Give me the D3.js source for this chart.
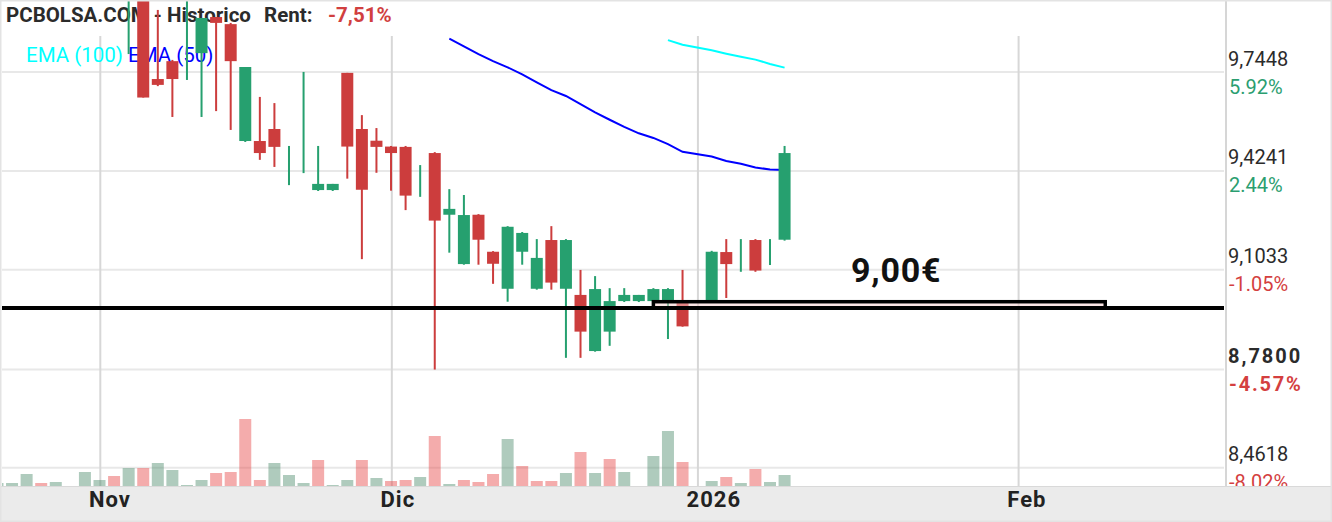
<!DOCTYPE html>
<html>
<head>
<meta charset="utf-8">
<script src="https://cdn.jsdelivr.net/npm/d3@7"></script>
<style>
  html, body { margin: 0; padding: 0; background: #fff; }
  svg { display: block; font-family: Roboto, "Noto Sans", sans-serif; }
</style>
</head>
<body>
<svg id="chart" width="1332" height="522"></svg>
<script>
// ---- Daily sessions (BME), OHLC and volume (thousands of shares) ----
const sessions = [
  "2025-10-23","2025-10-24","2025-10-27","2025-10-28","2025-10-29","2025-10-31",
  "2025-11-03","2025-11-04","2025-11-05","2025-11-06","2025-11-07","2025-11-10",
  "2025-11-11","2025-11-12","2025-11-13","2025-11-14","2025-11-17","2025-11-18",
  "2025-11-19","2025-11-20","2025-11-21","2025-11-24","2025-11-25","2025-11-26",
  "2025-11-27","2025-11-28","2025-12-01","2025-12-02","2025-12-03","2025-12-04",
  "2025-12-05","2025-12-08","2025-12-09","2025-12-10","2025-12-11","2025-12-12",
  "2025-12-15","2025-12-16","2025-12-17","2025-12-18","2025-12-19","2025-12-22",
  "2025-12-23","2025-12-24","2025-12-29","2025-12-30","2025-12-31","2026-01-02",
  "2026-01-05","2026-01-06","2026-01-07","2026-01-08","2026-01-09"
];
const open = [
  10.30, 10.35, 10.38, 10.46, 10.40, 10.42,
  10.48, 10.50, 10.10, 10.05, 9.722, 9.780,
  9.800, 9.806, 9.923, 9.900, 9.521, 9.521,
  9.560, 9.505, 9.589, 9.362, 9.362, 9.742,
  9.560, 9.522, 9.503, 9.502, 9.395, 9.482,
  9.282, 9.122, 9.282, 9.162, 9.042, 9.162,
  9.042, 9.200, 9.042, 9.022, 8.840, 8.903,
  9.002, 9.002, 9.002, 9.002, 9.002, 9.003,
  9.161, 9.168, 9.200, 9.168, 9.201
];
const high = [
  10.38, 10.42, 10.50, 10.48, 10.45, 10.52,
  10.55, 10.52, 10.30, 10.12, 9.946, 9.784,
  10.03, 9.920, 9.923, 9.904, 9.761, 9.664,
  9.644, 9.505, 9.745, 9.505, 9.382, 9.742,
  9.605, 9.563, 9.505, 9.505, 9.443, 9.485,
  9.365, 9.346, 9.284, 9.164, 9.245, 9.226,
  9.203, 9.245, 9.203, 9.103, 9.083, 9.044,
  9.044, 9.022, 9.044, 9.044, 9.103, 9.165,
  9.203, 9.203, 9.203, 9.203, 9.505
];
const low = [
  10.26, 10.31, 10.36, 10.38, 10.37, 10.40,
  10.44, 10.20, 9.803, 9.662, 9.699, 9.599,
  9.719, 9.599, 9.618, 9.557, 9.518, 9.460,
  9.437, 9.378, 9.417, 9.359, 9.359, 9.399,
  9.138, 9.418, 9.360, 9.297, 9.340, 8.780,
  9.159, 9.120, 9.120, 9.058, 9.000, 9.120,
  9.039, 9.039, 8.818, 8.818, 8.838, 8.857,
  8.999, 8.999, 9.002, 8.879, 8.919, 9.003,
  9.012, 9.097, 9.097, 9.119, 9.198
];
const close = [
  10.35, 10.38, 10.46, 10.40, 10.42, 10.48,
  10.50, 10.24, 10.26, 9.662, 9.703, 9.722,
  9.800, 9.920, 9.904, 9.780, 9.761, 9.482,
  9.502, 9.505, 9.589, 9.382, 9.382, 9.503,
  9.363, 9.502, 9.482, 9.344, 9.395, 9.263,
  9.301, 9.281, 9.201, 9.123, 9.243, 9.223,
  9.142, 9.062, 9.200, 8.903, 9.041, 9.002,
  9.022, 9.022, 9.041, 9.041, 8.920, 9.162,
  9.122, 9.168, 9.101, 9.168, 9.482
];
const volume = [
  3, 3, 12, 3, 4, 14,
  6, 10, 18, 18, 23, 16,
  1, 6, 13, 14, 67, 6,
  23, 11, 3, 26, 1, 6,
  26, 8, 5, 6, 9, 50,
  2, 6, 4, 12, 47, 20,
  5, 5, 13, 34, 13, 27,
  14, 0, 30, 55, 24, 5,
  9, 3, 17, 4, 11
];

// Moving averages
const ema50Start = "2025-12-05";
const ema50 = [
  9.853, 9.828, 9.803, 9.780, 9.760, 9.737,
  9.711, 9.686, 9.667, 9.641, 9.614, 9.590,
  9.567, 9.546, 9.531, 9.511, 9.486, 9.471,
  9.456, 9.447, 9.435, 9.429, 9.427
];
const ema100Start = "2025-12-30";
const ema100 = [9.848, 9.833, 9.815, 9.804, 9.794, 9.785, 9.771, 9.759];

// Price axis ticks and their % change labels
const priceTicks = [9.7448, 9.4241, 9.1033, 8.7800, 8.4618];
const priceTickLabels = ["9,7448", "9,4241", "9,1033", "8,7800", "8,4618"];
const pctTickLabels = ["5.92%", "2.44%", "-1.05%", "-4.57%", "-8.02%"];
const pctTickUp = [true, true, false, false, false];
const highlightTick = "8,7800";

// Time axis
const monthTicks = ["2025-11-03", "2025-12-01", "2026-01-01", "2026-02-02"];
const monthLabels = ["Nov", "Dic", "2026", "Feb"];
const marketClosed = ["2025-12-25", "2025-12-26"];

// Annotations
const supportLevel = 8.98;
const zoneTop = 9.00;
const zoneFrom = "2025-12-29";
const zoneTo = "2026-02-10";
const zoneLabel = "9,00€";
const titleText = "PCBOLSA.COM - Historico";
const rentLabel = "Rent:";
const rentValue = "-7,51%";
const legendItems = [
  { name: "EMA (100)", color: "#00ffff" },
  { name: "EMA (50)", color: "#0000ff" }
];

// ---- Layout ----
const W = 1332, H = 522;
const plotLeft = 2, plotRight = 1224, axisX = 1226;
const volBase = 486;
const GREEN = "#26a06f", RED = "#cc3d3d";

// Trading calendar: weekdays except market holidays
const fmt = d3.utcFormat("%Y-%m-%d");
const calendar = d3.utcDays(new Date("2025-10-23T00:00:00Z"), new Date("2026-02-28T00:00:00Z"))
  .filter(d => d.getUTCDay() !== 0 && d.getUTCDay() !== 6)
  .map(fmt)
  .filter(s => !marketClosed.includes(s));

const step = 14.576, x0 = -2.53;
const x = d3.scalePoint()
  .domain(calendar)
  .range([x0, x0 + step * (calendar.length - 1)]);

const y = d3.scaleLinear().domain([8.4618, 9.7448]).range([467.7, 72]);
const yVol = d3.scaleLinear().domain([0, d3.max(volume)]).range([volBase, volBase - 67]);

const bars = sessions.map((date, i) => ({
  date, o: open[i], h: high[i], l: low[i], c: close[i], v: volume[i],
  volUp: i === 0 ? close[i] >= open[i] : close[i] >= close[i - 1]
}));

const svg = d3.select("#chart");

svg.append("defs").append("clipPath").attr("id", "plot")
  .append("rect").attr("x", plotLeft).attr("y", 0)
  .attr("width", plotRight - plotLeft).attr("height", volBase);

svg.append("rect").attr("width", W).attr("height", H).attr("fill", "#fff");

// Gridlines
svg.append("g").selectAll("line").data(priceTicks).join("line")
  .attr("x1", plotLeft).attr("x2", plotRight)
  .attr("y1", d => y(d)).attr("y2", d => y(d))
  .attr("stroke", "#e8e8e8").attr("stroke-width", 2);

svg.append("g").selectAll("line").data(monthTicks).join("line")
  .attr("x1", d => x(d) + 0.8).attr("x2", d => x(d) + 0.8)
  .attr("y1", 36).attr("y2", volBase)
  .attr("stroke", "#d7d7d7").attr("stroke-width", 2);

// Title and legend
const title = svg.append("g").attr("font-size", 20.5).attr("font-weight", 700);
title.append("text").attr("x", 6).attr("y", 22).attr("fill", "#2b2b2b").text(titleText);
title.append("text").attr("x", 264).attr("y", 22).attr("fill", "#2b2b2b").text(rentLabel);
title.append("text").attr("x", 328).attr("y", 22).attr("fill", "#d13f3f").text(rentValue);

const legendX = [26, 128];
svg.append("g").selectAll("text").data(legendItems).join("text")
  .attr("x", (d, i) => legendX[i]).attr("y", 62)
  .attr("font-size", 20.5).attr("fill", d => d.color).text(d => d.name);

// Plot contents
const plot = svg.append("g").attr("clip-path", "url(#plot)");

// Volume
plot.append("g").selectAll("rect").data(bars.filter(b => b.v > 0)).join("rect")
  .attr("x", d => x(d.date) - 6).attr("width", 12)
  .attr("y", d => yVol(d.v)).attr("height", d => volBase - yVol(d.v))
  .attr("fill", d => d.volUp ? "rgba(77,139,108,0.45)" : "rgba(230,70,70,0.45)");

// EMA lines
const i50 = sessions.indexOf(ema50Start), i100 = sessions.indexOf(ema100Start);
const line = d3.line().x(d => x(d[0])).y(d => y(d[1]));
plot.append("path")
  .datum(ema100.map((v, k) => [sessions[i100 + k], v]))
  .attr("d", line).attr("fill", "none").attr("stroke", "#00ffff").attr("stroke-width", 2);
plot.append("path")
  .datum(ema50.map((v, k) => [sessions[i50 + k], v]))
  .attr("d", line).attr("fill", "none").attr("stroke", "#0000ff").attr("stroke-width", 2);

// Candles
const candle = plot.append("g").selectAll("g").data(bars).join("g")
  .attr("fill", d => d.c >= d.o ? GREEN : RED);
candle.append("rect")
  .attr("x", d => x(d.date) - 1).attr("width", 2)
  .attr("y", d => y(d.h)).attr("height", d => y(d.l) - y(d.h));
candle.append("rect")
  .attr("x", d => x(d.date) - 6).attr("width", 12)
  .attr("y", d => y(Math.max(d.o, d.c)))
  .attr("height", d => Math.abs(y(d.o) - y(d.c)));

// Support zone and line
plot.append("rect")
  .attr("x", x(zoneFrom)).attr("width", x(zoneTo) - x(zoneFrom))
  .attr("y", y(zoneTop)).attr("height", y(supportLevel) - y(zoneTop))
  .attr("fill", "rgba(250,205,205,0.5)").attr("stroke", "#000").attr("stroke-width", 3.5);
plot.append("line")
  .attr("x1", plotLeft).attr("x2", plotRight)
  .attr("y1", y(supportLevel)).attr("y2", y(supportLevel))
  .attr("stroke", "#000").attr("stroke-width", 4);

svg.append("text").attr("x", 851).attr("y", 282)
  .attr("font-size", 34).attr("font-weight", 700).attr("fill", "#111")
  .attr("letter-spacing", 0.8)
  .text(zoneLabel);

// Right price axis
svg.append("line").attr("x1", axisX).attr("x2", axisX).attr("y1", 0).attr("y2", volBase)
  .attr("stroke", "#d6d6d6").attr("stroke-width", 2);

const ticks = priceTicks.map((v, i) => ({
  v, label: priceTickLabels[i], pct: pctTickLabels[i], up: pctTickUp[i],
  bold: priceTickLabels[i] === highlightTick
}));
const tg = svg.append("g").attr("font-size", 20);
tg.selectAll("text.val").data(ticks).join("text").attr("class", "val")
  .attr("x", 1228).attr("y", d => y(d.v) - 6.5)
  .attr("fill", "#2b2b2b")
  .attr("font-weight", d => d.bold ? 700 : 400)
  .attr("letter-spacing", d => d.bold ? 2 : 0)
  .text(d => d.label);
tg.selectAll("text.pct").data(ticks).join("text").attr("class", "pct")
  .attr("x", 1229).attr("y", d => y(d.v) + 21.5)
  .attr("fill", d => d.up ? "#2b9e70" : "#d43f3f")
  .attr("font-weight", d => d.bold ? 700 : 400)
  .attr("letter-spacing", d => d.bold ? 1.8 : 0)
  .text(d => d.pct);

// Bottom time axis band
svg.append("rect").attr("x", 0).attr("y", volBase).attr("width", W).attr("height", H - volBase)
  .attr("fill", "#ebebeb");
svg.append("line").attr("x1", 0).attr("x2", W).attr("y1", volBase + 0.5).attr("y2", volBase + 0.5)
  .attr("stroke", "#d9d9d9").attr("stroke-width", 1);
svg.append("g").selectAll("text").data(monthTicks).join("text")
  .attr("x", d => x(d) - 10.5).attr("y", 507)
  .attr("font-size", 22).attr("font-weight", 700).attr("letter-spacing", 1)
  .attr("fill", "#222")
  .text((d, i) => monthLabels[i]);

// Frame
svg.append("rect").attr("x", 0.75).attr("y", 0.75).attr("width", W - 1.5).attr("height", H - 1.5)
  .attr("fill", "none").attr("stroke", "#e3e3e3").attr("stroke-width", 1.5);
</script>
</body>
</html>
